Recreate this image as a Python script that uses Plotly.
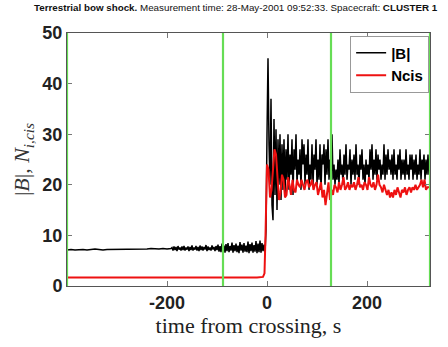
import numpy as np
import plotly.graph_objects as go

# ---------------- data ----------------
# |B| : quiet upstream (coarse sampling)
b_t1 = list(range(-400, -191, 8))
b_v1 = [7.1, 7.2, 7.1, 7.2, 7.2, 7.1, 7.2, 7.3, 7.2, 7.1, 7.2, 7.2, 7.3, 7.2,
        7.2, 7.3, 7.2, 7.3, 7.3, 7.2, 7.3, 7.4, 7.3, 7.3, 7.4, 7.3, 7.4]
# |B| : noisier upstream (foreshock)
b_t2 = list(range(-190, -3, 2))
b_v2 = [7.6, 7.0, 7.8, 7.1, 7.7, 6.9, 7.9, 7.2, 7.6, 7.0,
        7.8, 7.1, 7.9, 7.0, 7.6, 7.2, 7.8, 6.9, 7.7, 7.1,
        8.0, 7.0, 7.6, 7.2, 7.9, 7.0, 7.7, 6.9, 8.0, 7.1,
        7.8, 7.0, 7.7, 7.2, 8.1, 6.9, 7.8, 7.1, 7.6, 7.0,
        8.0, 7.2, 7.7, 6.9, 7.9, 7.1,
        8.2, 6.8, 7.9, 6.7, 8.4, 7.0, 8.0, 6.6, 8.3, 6.9,
        8.5, 6.7, 7.9, 7.0, 8.6, 6.6, 8.1, 6.9, 8.4, 6.7,
        8.0, 6.5, 8.7, 7.0, 8.2, 6.6, 8.5, 6.8, 8.0, 6.7,
        8.8, 6.5, 8.3, 6.9, 8.6, 6.6, 8.1, 6.8, 8.9, 6.5,
        8.4, 6.7, 9.0, 6.6, 8.5, 6.9, 8.2, 6.6]
# |B| : shock and downstream
b_t3 = list(range(-2, 327, 2))
b_v3 = [11, 30, 45, 28, 20, 37, 16, 13, 33, 18,
        31, 15, 29, 20, 30, 17, 28, 19, 29, 18,
        27, 21, 30, 19, 26, 22, 29, 18, 27, 23,
        30, 20, 25, 22, 27, 19, 29, 24, 28, 20,
        26, 22, 29, 19, 24, 21, 28, 20, 26, 23,
        29, 20, 25, 21, 28, 19, 26, 24, 28, 20,
        27, 22, 29, 21, 25, 20, 30, 21, 24, 20,
        23, 21, 25, 20, 27, 22, 24, 20, 26, 22,
        28, 21, 24, 23, 27, 20, 25, 22, 26, 21,
        28, 22, 24, 20, 26, 23, 27, 21, 24, 20,
        25, 22, 24, 21, 27, 23, 28, 21, 25, 22,
        27, 21, 26, 23, 25, 21, 24, 22, 28, 21,
        26, 22, 27, 23, 25, 22, 26, 21, 27, 22,
        24, 21, 26, 23, 27, 21, 25, 22, 25, 21,
        27, 22, 24, 21, 26, 23, 26, 21, 25, 22,
        26, 21, 24, 22, 27, 21, 25, 23, 26, 21,
        25, 22, 26, 22, 24]

# Ncis
n_t1 = [-400, -300, -200, -100, -20, -8, -5, -3, -1, 0]
n_v1 = [1.7, 1.7, 1.65, 1.7, 1.7, 1.8, 2.5, 10, 20, 24]
n_t2 = list(range(3, 325, 3))
n_v2 = [23, 17.5, 19, 24, 27, 26, 20, 17, 18.5, 22,
        21, 17.5, 18, 21.5, 20, 18, 21, 19, 18.5, 21,
        20, 19.5, 21, 20, 19, 20.5, 21, 19.5, 20, 21,
        19, 20, 20.5, 18, 19.5, 20.5, 17.5, 19, 16, 18,
        20.5, 17, 19, 18, 20, 19.5, 18.5, 20.5, 19, 20,
        21.5, 19, 19.5, 20.5, 19, 20, 19.5, 20.5, 19, 20,
        21.5, 19.5, 20, 19, 20.5, 20, 19, 21.5, 20, 19.5,
        20.5, 19, 20, 22, 20, 19.5, 18.5, 20, 19, 18,
        19, 17.5, 18.5, 17.5, 19, 18, 19.5, 18.5, 17.5, 19,
        18.5, 19.5, 18, 19, 19.5, 18.5, 19.5, 19, 20, 19,
        19.5, 20, 21, 19.5, 21, 19, 19.5, 19.5]

green_lines = [-400, -88, 128, 326]
x_range = [-400, 326]
y_range = [0, 50]
x_ticks = [-200, 0, 200]
x_tick_text = ["-200", "0", "200"]
y_ticks = [0, 10, 20, 30, 40, 50]

b_t = b_t1 + b_t2 + b_t3
b_v = b_v1 + b_v2 + b_v3
n_t = n_t1 + n_t2
n_v = n_v1 + n_v2

# ---------------- figure ----------------
fig = go.Figure()
fig.add_trace(go.Scatter(x=b_t, y=b_v, mode="lines", name="|B|",
                         line=dict(color="black", width=1.5)))
fig.add_trace(go.Scatter(x=n_t, y=n_v, mode="lines", name="Ncis",
                         line=dict(color="#ee1111", width=2)))

for gx in green_lines:
    fig.add_shape(type="line", xref="x", yref="paper", x0=gx, x1=gx, y0=0, y1=1,
                  line=dict(color="#66dd55", width=2.2), layer="above")

tickfont = dict(family="Liberation Sans", size=18, color="#222", weight="bold")
fig.update_xaxes(range=x_range, tickvals=x_ticks, ticktext=x_tick_text,
                 ticks="inside", ticklen=5,
                 tickcolor="#777", showline=True, linecolor="#555", mirror="ticks",
                 showgrid=False, zeroline=False, tickfont=tickfont,
                 title=dict(text="time from crossing, s",
                            font=dict(family="Liberation Serif", size=22, color="#222"),
                            standoff=4))
fig.update_yaxes(range=y_range, tickvals=y_ticks, ticks="inside", ticklen=5,
                 tickcolor="#777", showline=True, linecolor="#555", mirror="ticks",
                 showgrid=False, zeroline=False, tickfont=tickfont,
                 title=dict(text="|<i>B</i>|, <i>N</i><sub><i>i,cis</i></sub>",
                            font=dict(family="Liberation Serif", size=22, color="#333"),
                            standoff=6))

fig.update_layout(
    width=448, height=347,
    margin=dict(l=67, r=18, t=33, b=61),
    paper_bgcolor="white", plot_bgcolor="white",
    title=dict(text="<b>Terrestrial bow shock.</b> Measurement time: 28-May-2001 09:52:33. Spacecraft: <b>CLUSTER 1</b>",
               font=dict(family="Liberation Sans", size=9.8, color="#111"),
               x=34 / 448, xanchor="left", xref="container",
               y=1 - 8 / 347, yanchor="middle", yref="container"),
    legend=dict(x=0.78, y=0.99, xanchor="left", yanchor="top",
                bgcolor="white", bordercolor="#999", borderwidth=1,
                font=dict(family="Liberation Sans", size=15, color="black", weight="bold"),
                itemwidth=30, tracegroupgap=0),
    showlegend=True,
)

fig.write_html("out.html")
